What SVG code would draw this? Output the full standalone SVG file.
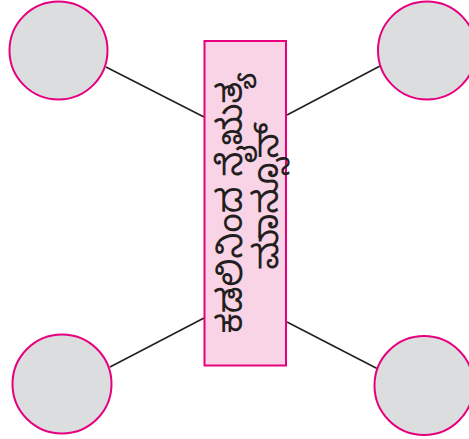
<svg xmlns="http://www.w3.org/2000/svg" width="469" height="439" viewBox="0 0 469 439">
<style>
.c{fill:#dcdddf;stroke:#e6007e;stroke-width:2}
.l{stroke:#231f20;stroke-width:1.6;fill:none}
.t{font-family:'Noto Sans Kannada','Noto Serif Kannada','Tunga','Lohit Kannada','Noto Sans',sans-serif;font-size:35px;fill:#231f20}
</style>
<rect width="469" height="439" fill="#fff"/>
<g id="connectors">
<line class="l" x1="106" y1="67" x2="204" y2="117"/>
<line class="l" x1="287" y1="115" x2="380" y2="66"/>
<line class="l" x1="110" y1="367" x2="204" y2="318"/>
<line class="l" x1="287" y1="322" x2="378" y2="369"/>
</g>
<g id="n1"><circle class="c" cx="58.5" cy="50.5" r="49"/></g>
<g id="n2"><circle class="c" cx="427" cy="50.5" r="49"/></g>
<g id="n3"><circle class="c" cx="62" cy="384" r="49.5"/></g>
<g id="n4"><circle class="c" cx="424" cy="385.5" r="49.5"/></g>
<g id="center">
<rect x="204.5" y="41" width="81.5" height="324.5" fill="#f9d3e6" stroke="#e6007e" stroke-width="2"/>
<text class="t" text-anchor="middle" transform="translate(242,203) rotate(-90)">ಕಡಲಿನಿಂದ ನೈಋತ್ಯ</text>
<text class="t" text-anchor="middle" transform="translate(278,196) rotate(-90)">ಮಾನ್ಸೂನ್</text>
</g>
</svg>
